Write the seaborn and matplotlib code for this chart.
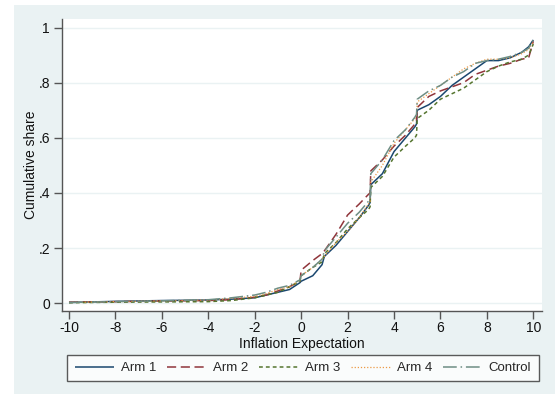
import matplotlib
matplotlib.use("Agg")
import matplotlib.pyplot as plt
import seaborn as sns
import pandas as pd
from matplotlib.patches import Rectangle

x_vals = [-10, -8, -6, -4, -3, -2, -1.5, -1, -0.5, -0.05, 0, 0.5, 0.9, 1, 1.5, 2,
          2.5, 2.9, 2.97, 3, 3.5, 4, 4.5, 4.9, 4.97, 5, 5.5, 6, 6.5, 7, 7.5, 8, 8.5, 9, 9.5, 9.8, 10]

arm1 = [0.003, 0.007, 0.010, 0.012, 0.015, 0.020, 0.030, 0.040, 0.050, 0.075, 0.080, 0.100, 0.140, 0.170, 0.210, 0.260,
        0.310, 0.355, 0.365, 0.430, 0.470, 0.550, 0.600, 0.640, 0.650, 0.700, 0.720, 0.750, 0.790, 0.820, 0.850, 0.880, 0.880, 0.890, 0.910, 0.930, 0.955]
arm2 = [0.004, 0.006, 0.008, 0.010, 0.013, 0.022, 0.030, 0.045, 0.060, 0.080, 0.120, 0.155, 0.180, 0.190, 0.250, 0.320,
        0.360, 0.395, 0.400, 0.480, 0.520, 0.570, 0.610, 0.650, 0.660, 0.710, 0.750, 0.770, 0.785, 0.800, 0.830, 0.845, 0.860, 0.870, 0.885, 0.890, 0.950]
arm3 = [0.002, 0.004, 0.005, 0.006, 0.010, 0.020, 0.030, 0.040, 0.060, 0.080, 0.100, 0.130, 0.150, 0.180, 0.220, 0.270,
        0.310, 0.340, 0.350, 0.420, 0.460, 0.530, 0.570, 0.600, 0.610, 0.670, 0.700, 0.740, 0.760, 0.780, 0.810, 0.840, 0.860, 0.875, 0.885, 0.900, 0.940]
arm4 = [0.003, 0.006, 0.009, 0.012, 0.018, 0.025, 0.035, 0.050, 0.060, 0.085, 0.100, 0.130, 0.160, 0.170, 0.220, 0.260,
        0.310, 0.360, 0.370, 0.440, 0.500, 0.580, 0.630, 0.670, 0.680, 0.730, 0.760, 0.790, 0.820, 0.850, 0.870, 0.885, 0.885, 0.890, 0.905, 0.920, 0.950]
control = [0.003, 0.006, 0.009, 0.013, 0.020, 0.030, 0.040, 0.055, 0.065, 0.085, 0.100, 0.130, 0.160, 0.190, 0.240, 0.290,
           0.330, 0.370, 0.380, 0.470, 0.520, 0.590, 0.630, 0.675, 0.685, 0.740, 0.770, 0.790, 0.820, 0.840, 0.870, 0.880, 0.885, 0.895, 0.910, 0.925, 0.955]

series_names = ["Arm 1", "Arm 2", "Arm 3", "Arm 4", "Control"]
series_vals = [arm1, arm2, arm3, arm4, control]
x_ticks = [-10, -8, -6, -4, -2, 0, 2, 4, 6, 8, 10]
y_ticks = [0, 0.2, 0.4, 0.6, 0.8, 1]
y_tick_labels = ["0", ".2", ".4", ".6", ".8", "1"]

colors = ["#1a476f", "#90353b", "#55752f", "#ec9a45", "#6e8e84"]
styles = [(0, ()), (0, (6, 3)), (0, (2.5, 2)), (0, (1, 1.5)), (0, (9, 2.5, 1, 2.5))]
widths = [1.1, 1.1, 1.1, 0.9, 1.1]

sns.set_style("white")
plt.rcParams['font.family'] = ['Liberation Sans', 'DejaVu Sans']

W, H = 555, 394
fig = plt.figure(figsize=(W / 100, H / 100), dpi=100)
fig.patch.set_facecolor("white")
bg = Rectangle((14 / W, 0), 1 - 14 / W, (H - 5) / H, transform=fig.transFigure,
               facecolor="#eaf2f3", edgecolor="none", zorder=-10)
fig.patches.append(bg)

left, right, top, bottom = 61.7, 541.7, 19.0, 310.7
ax = fig.add_axes([left / W, (H - bottom) / H, (right - left) / W, (bottom - top) / H])
ax.set_facecolor("white")

for name, vals, c, ls, lw in zip(series_names, series_vals, colors, styles, widths):
    df = pd.DataFrame({"x": x_vals, "y": vals})
    sns.lineplot(data=df, x="x", y="y", ax=ax, color=c, linestyle=ls, linewidth=lw,
                 label=name, estimator=None, sort=False)

ax.set_xlim(-10 - 7.3 / 23.2, 10 + 8.4 / 23.2)
ax.set_ylim(-7.4 / 275.8, 1 + 8.5 / 275.8)
ax.set_xticks(x_ticks)
ax.set_xticklabels([str(t) for t in x_ticks], fontsize=10)
ax.set_yticks(y_ticks)
ax.set_yticklabels(y_tick_labels, fontsize=10)
ax.yaxis.grid(True, color="#eaf2f3", linewidth=1)
ax.xaxis.grid(False)
ax.set_axisbelow(True)
for s in ["top", "right"]:
    ax.spines[s].set_visible(False)
for s in ["left", "bottom"]:
    ax.spines[s].set_color("#555555")
    ax.spines[s].set_linewidth(1)
ax.tick_params(axis="both", direction="out", length=5.5, width=1, color="#555555",
               left=True, bottom=True, pad=2, labelcolor="#111111")
ax.tick_params(axis="y", pad=3)
ax.set_xlabel("Inflation Expectation", fontsize=10, labelpad=1, color="#111111")
ax.set_ylabel("Cumulative share", fontsize=10, labelpad=0, color="#111111")

handles, labels = ax.get_legend_handles_labels()
ax.get_legend().remove()
leg = fig.legend(handles, labels, ncol=5, loc="center left",
                 bbox_to_anchor=(67.3 / W, 1 - 368 / H),
                 fontsize=9.5, frameon=True, fancybox=False, handlelength=3.0,
                 columnspacing=0.8, handletextpad=0.5, borderpad=0.55, borderaxespad=0)
leg.get_frame().set_edgecolor("#333333")
leg.get_frame().set_linewidth(1)
leg.get_frame().set_facecolor("white")

fig.savefig("out.png", dpi=100, facecolor=fig.get_facecolor())
